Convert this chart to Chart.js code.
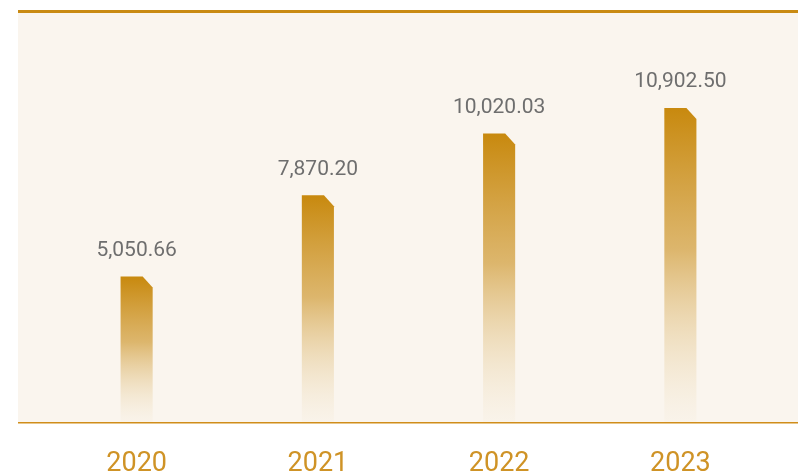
<!DOCTYPE html>
<html>
<head>
<meta charset="utf-8">
<script src="https://cdn.jsdelivr.net/npm/chart.js@4/dist/chart.umd.min.js"></script>
<style>
  html, body { margin: 0; padding: 0; background: #ffffff; }
  #wrap { width: 798px; height: 475px; }
</style>
</head>
<body>
<div id="wrap"><canvas id="revenueChart"></canvas></div>
<script>
const years = ['2020', '2021', '2022', '2023'];
const revenue = [5050.66, 7870.20, 10020.03, 10902.50];

const GOLD = '#c98a12';
const PANEL_BG = '#faf5ee';

// panel background, top rule and base line
const panelPlugin = {
  id: 'panel',
  beforeDraw(chart) {
    const { ctx, chartArea, width } = chart;
    ctx.save();
    ctx.fillStyle = PANEL_BG;
    ctx.fillRect(18, chartArea.top - 2, width - 18, chartArea.bottom - chartArea.top + 2);
    ctx.fillStyle = GOLD;
    ctx.fillRect(18, chartArea.top - 3, width - 18, 3);
    ctx.fillStyle = '#d08d1a';
    ctx.fillRect(18, chartArea.bottom, width - 18, 1.5);
    ctx.restore();
  }
};

// bars with a clipped top-right corner and a fade towards the base
const barPlugin = {
  id: 'cutBars',
  afterDatasetsDraw(chart) {
    const { ctx } = chart;
    const meta = chart.getDatasetMeta(0);
    ctx.save();
    meta.data.forEach((bar, i) => {
      const left = bar.x - bar.width / 2;
      const right = bar.x + bar.width / 2;
      const top = bar.y;
      const base = bar.base;
      const cut = 10;
      const grad = ctx.createLinearGradient(0, top, 0, base);
      grad.addColorStop(0, 'rgba(200,137,14,1)');
      grad.addColorStop(0.45, 'rgba(214,168,80,0.82)');
      grad.addColorStop(1, 'rgba(240,225,195,0.1)');
      ctx.fillStyle = grad;
      ctx.beginPath();
      ctx.moveTo(left, base);
      ctx.lineTo(left, top);
      ctx.lineTo(right - cut, top);
      ctx.lineTo(right, top + cut + 1);
      ctx.lineTo(right, base);
      ctx.closePath();
      ctx.fill();

      ctx.fillStyle = '#6e6e6e';
      ctx.font = '21px Roboto, "Noto Sans", sans-serif';
      ctx.textAlign = 'center';
      ctx.textBaseline = 'middle';
      const txt = revenue[i].toLocaleString('en-US', { minimumFractionDigits: 2, maximumFractionDigits: 2 });
      ctx.fillText(txt, bar.x, top - 26);
    });
    ctx.restore();
  }
};

new Chart(document.getElementById('revenueChart'), {
  type: 'bar',
  data: {
    labels: years,
    datasets: [{
      data: revenue,
      backgroundColor: 'rgba(0,0,0,0)',
      borderWidth: 0,
      categoryPercentage: 1,
      barPercentage: 0.177
    }]
  },
  options: {
    responsive: true,
    maintainAspectRatio: false,
    animation: false,
    layout: { padding: { top: 13, left: 46, right: 27, bottom: 0 } },
    plugins: {
      legend: { display: false },
      tooltip: { enabled: false }
    },
    scales: {
      x: {
        grid: { display: false, drawTicks: false },
        border: { display: false },
        afterFit(scale) { scale.height = 53; },
        ticks: {
          color: '#cf9326',
          padding: 26,
          font: { size: 27, family: 'Roboto, "Noto Sans", sans-serif' }
        }
      },
      y: {
        display: false,
        min: 0,
        max: 14200
      }
    }
  },
  plugins: [panelPlugin, barPlugin]
});
</script>
</body>
</html>
